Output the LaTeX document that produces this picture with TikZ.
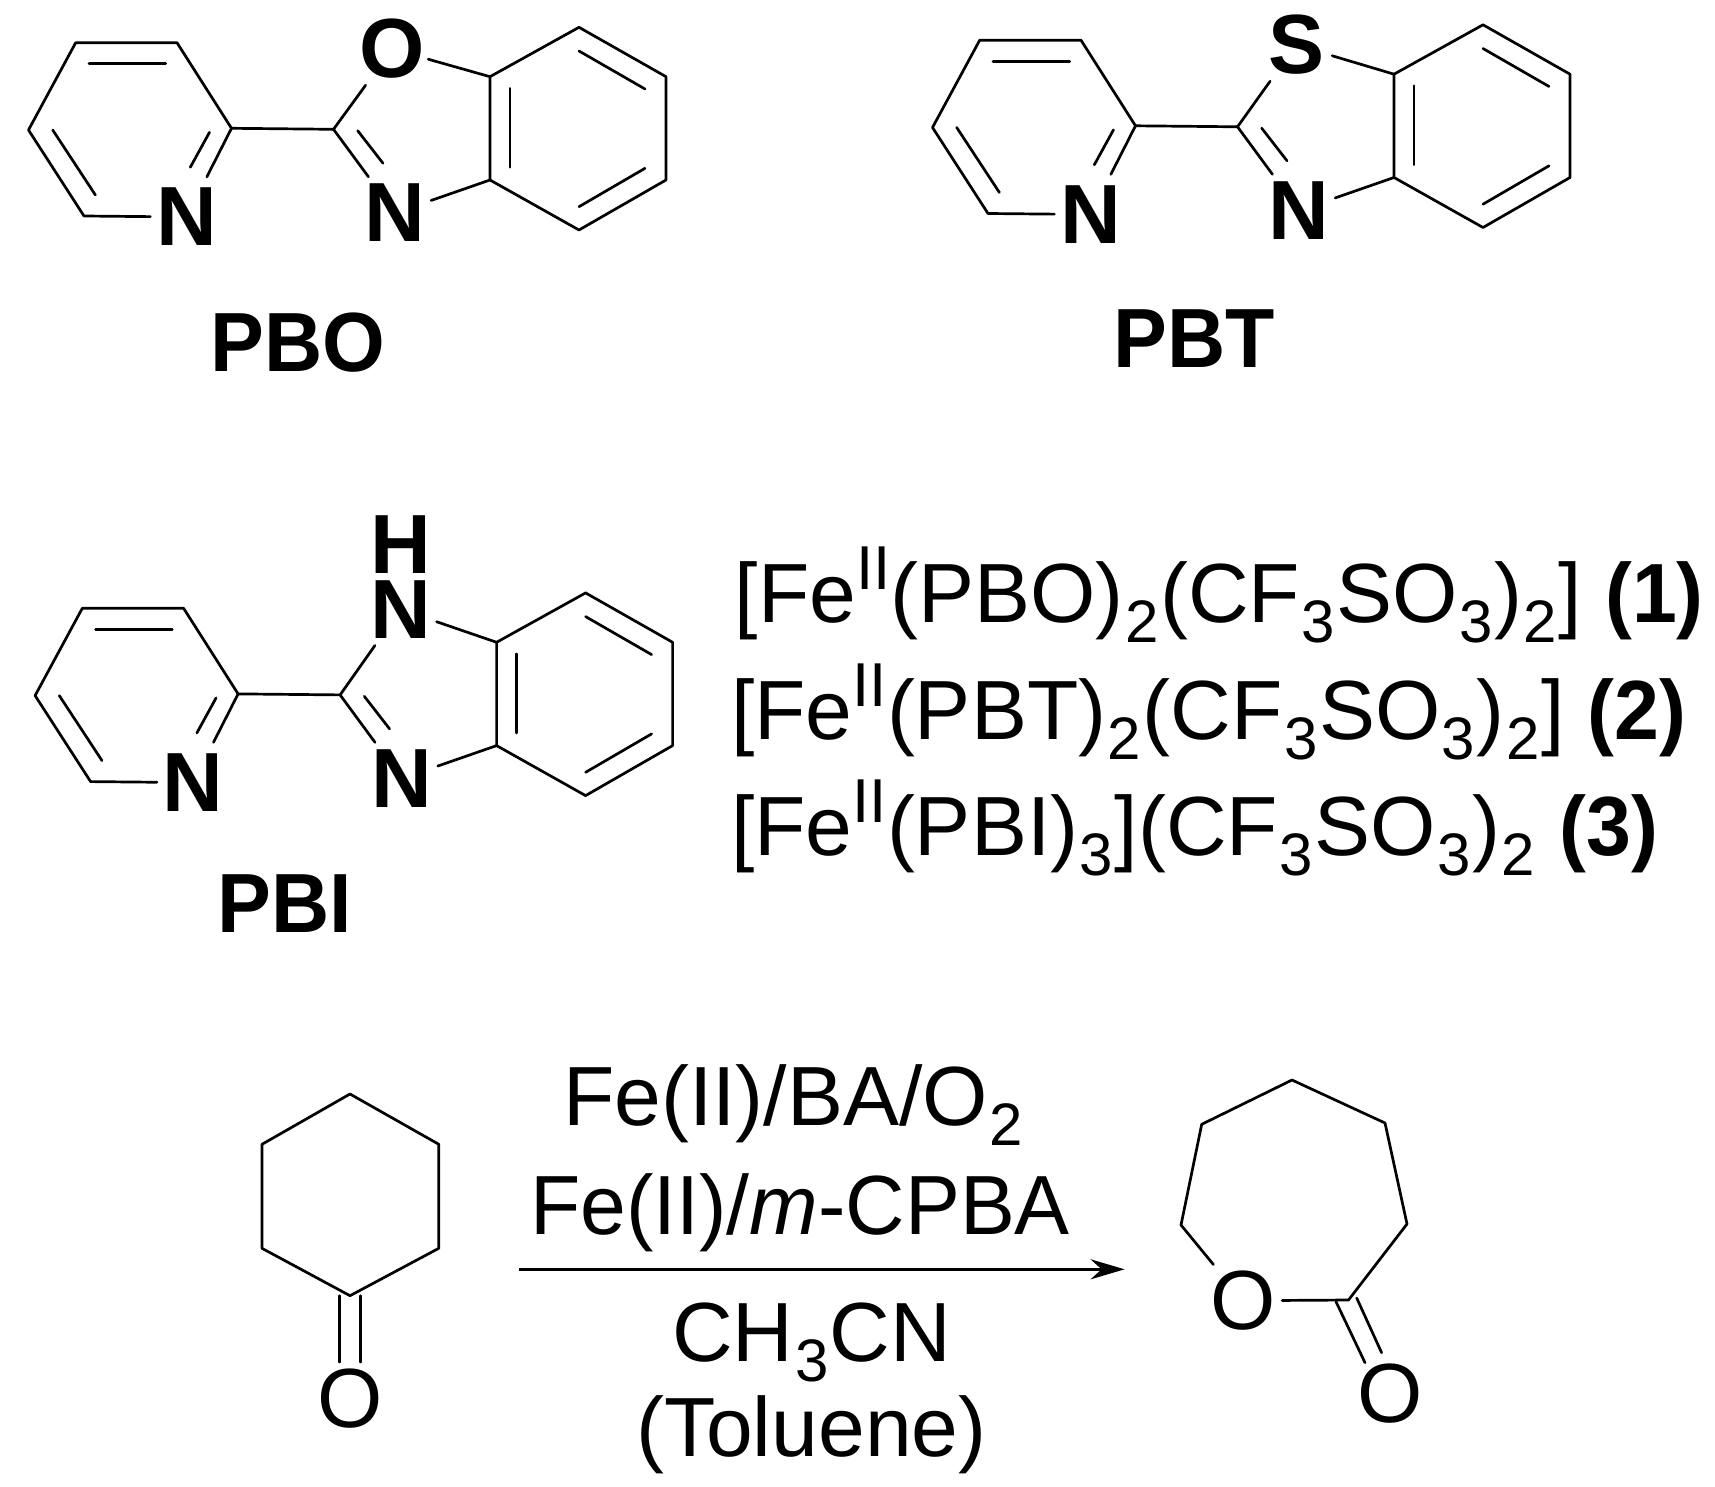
\documentclass[tikz,border=0pt]{standalone}
\usepackage{fontspec}
\setmainfont{Liberation Sans}
\usetikzlibrary{arrows.meta}
\newcommand{\sizeA}{\fontsize{84}{84}\selectfont}
\newcommand{\lsub}[1]{\kern1.5pt\relax\raisebox{-20pt}{\fontsize{60}{60}\selectfont #1}\kern1.5pt\relax}
\newcommand{\lsup}[1]{\raisebox{33pt}{\fontsize{62}{62}\selectfont #1}}
\newcommand{\innerbond}[3]{\coordinate (#1s) at #2; \coordinate (#1e) at #3; \draw[bond] (#1s) -- (#1e);}
% #1 prefix, #2 dx, #3 dy, #4 top-atom text, #5 top-atom x, #6 top-atom y
\newcommand{\ligand}[6]{%
\begin{scope}[shift={(#2,#3)}]
  \coordinate (#1a) at (75.7,42.7);
  \coordinate (#1b) at (177,42.7);
  \coordinate (#1c) at (231.5,128.3);
  \coordinate (#1d) at (84,216);
  \coordinate (#1e) at (28.5,130);
  \coordinate (#1g) at (333.5,129.3);
  \coordinate (#1f) at (490,76.7);
  \coordinate (#1h) at (490,180);
  \coordinate (#1i) at (579,27.3);
  \coordinate (#1j) at (666,76.7);
  \coordinate (#1k) at (666,180);
  \coordinate (#1l) at (579,230);
  \node[atomb,minimum height=80pt] (#1Npy) at (186.5,217) {N};
  \node[atomb] (#1Nim) at (395,213) {N};
  \node[atomb] (#1X) at (#5,#6) {#4};
  \draw[bond] (#1Npy) -- (#1d) -- (#1e) -- (#1a) -- (#1b) -- (#1c) -- (#1Npy);
  \draw[bond] (#1c) -- (#1g);
  \draw[bond] (#1g) -- (#1X);
  \draw[bond] (#1g) -- (#1Nim);
  \draw[bond] (#1X) -- (#1f);
  \draw[bond] (#1Nim) -- (#1h);
  \draw[bond] (#1f) -- (#1h) -- (#1l) -- (#1k) -- (#1j) -- (#1i) -- (#1f);
  \innerbond{#1p}{(89,63.7)}{(165.7,63.7)}
  \innerbond{#1q}{(52.7,130)}{(95.4,195)}
  \innerbond{#1r}{(209.5,132.3)}{(190.3,167.3)}
  \innerbond{#1t}{(357.7,130.7)}{(383,163.3)}
  \innerbond{#1u}{(510,88.3)}{(510,167.3)}
  \innerbond{#1v}{(579,51)}{(645,89)}
  \innerbond{#1w}{(579,206.7)}{(645,168.3)}
\end{scope}}
\newcommand{\narrow}[1]{\scalebox{.96}[1]{#1}}
\begin{document}
\begin{tikzpicture}[x=1pt,y=-1pt,
  bond/.style={line width=2.7pt,line cap=round,line join=round,black},
  atom/.style={inner sep=0pt,minimum width=72pt,minimum height=72pt,font=\sizeA,text=black},
  atomb/.style={atom,font=\sizeA\bfseries},
  ligname/.style={inner sep=0pt,anchor=base,font=\sizeA\bfseries},
  txt/.style={inner sep=0pt,anchor=base west,font=\sizeA}]
\useasboundingbox (0,0) rectangle (1715,1487);
\ligand{o}{0}{0}{O}{392}{49}
\ligand{s}{904}{-2.5}{S}{392}{47.5}
\ligand{h}{6.6}{565.6}{N}{393.8}{43.7}
\node[atomb,minimum height=60pt] (hH) at (400.4,545) {H};
\node[ligname] (lo) at (298,371) {\narrow{PBO}};
\node[ligname] (ls) at (1194.5,367) {\narrow{PBT}};
\node[ligname] (lh) at (285,932.7) {\narrow{PBI}};
\node[txt] (f1) at (734.5,622.7) {[Fe\lsup{II}(PBO)\lsub{2}(CF\lsub{3}SO\lsub{3})\lsub{2}] \narrow{\textbf{(1)}}};
\node[txt] (f2) at (731,739) {[Fe\lsup{II}(PBT)\lsub{2}(CF\lsub{3}SO\lsub{3})\lsub{2}] \narrow{\textbf{(2)}}};
\node[txt] (f3) at (731,855) {[Fe\lsup{II}(PBI)\lsub{3}](CF\lsub{3}SO\lsub{3})\lsub{2} \narrow{\textbf{(3)}}};
% cyclohexanone
\coordinate (c1) at (350,1094);
\coordinate (c2) at (262,1144.3);
\coordinate (c3) at (262,1248.3);
\coordinate (c4) at (350,1295.7);
\coordinate (c5) at (438.8,1248.3);
\coordinate (c6) at (438.8,1144.3);
\draw[bond] (c1) -- (c2) -- (c3) -- (c4) -- (c5) -- (c6) -- cycle;
\node[atom] (cO) at (350,1398.3) {O};
\draw[bond,transform canvas={xshift=-10.3pt}] (c4) -- (cO);
\draw[bond,transform canvas={xshift=10.3pt}] (c4) -- (cO);
% arrow
\coordinate (as) at (519,1269.3);
\coordinate (ae) at (1124.6,1269.3);
\draw[line width=3pt,-{Stealth[length=34pt,width=20pt]}] (as) -- (ae);
\node[txt] (r1) at (563,1125) {Fe(II)/BA/O\lsub{2}};
\node[txt] (r2) at (530,1234) {\scalebox{.98}[1]{Fe(II)/\textit{m}-CPBA}};
\node[txt] (r3) at (672,1361.7) {CH\lsub{3}CN};
\node[txt] (r4) at (636,1456) {(Toluene)};
% lactone
\coordinate (l1) at (1292,1080);
\coordinate (l2) at (1385,1123);
\coordinate (l3) at (1407,1224);
\coordinate (l4) at (1348.5,1300);
\coordinate (l6) at (1181,1225);
\coordinate (l7) at (1201.7,1124.3);
\node[atom,minimum width=78pt] (lO) at (1243,1300.7) {O};
\node[atom] (lO2) at (1390,1394) {O};
\draw[bond] (lO) -- (l4) -- (l3) -- (l2) -- (l1) -- (l7) -- (l6) -- (lO);
\innerbond{ld1}{(1336,1301.7)}{(1365,1362.7)}
\innerbond{ld2}{(1356.7,1298)}{(1381.6,1352.7)}
\end{tikzpicture}
\end{document}
